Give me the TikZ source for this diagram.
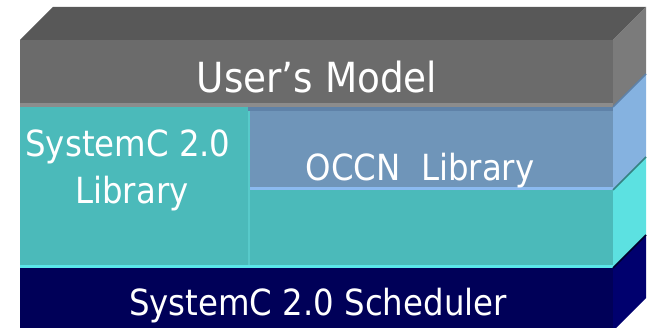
\documentclass[tikz,border=0pt]{standalone}
\usepackage{fontspec}
\setmainfont{DejaVu Sans Condensed}
\definecolor{gtop}{HTML}{585858}
\definecolor{gfront}{HTML}{6B6B6B}
\definecolor{gside}{HTML}{7B7B7B}
\definecolor{gband}{HTML}{8C8C8C}
\definecolor{tfront}{HTML}{4BBABA}
\definecolor{tside}{HTML}{5CE1E1}
\definecolor{tline}{HTML}{58CACA}
\definecolor{cband}{HTML}{5AE6EA}
\definecolor{bfront}{HTML}{6F95B9}
\definecolor{btop}{HTML}{5F82A8}
\definecolor{bband}{HTML}{8BBAF0}
\definecolor{bside}{HTML}{85B2E0}
\definecolor{nfront}{HTML}{000058}
\definecolor{nside}{HTML}{00006E}
\tikzset{
  lbl/.style={text=white, inner sep=0pt, anchor=base},
  big/.style={lbl, font=\fontsize{41.5}{41.5}\selectfont},
  mid/.style={lbl, font=\fontsize{36}{36}\selectfont},
}
\begin{document}
\begin{tikzpicture}[x=1pt,y=-1pt]
\useasboundingbox (0,0) rectangle (651,328);
\clip (0,0) rectangle (651,328);
% User's Model block
\fill[gtop] (20,40) -- (53,7) -- (646,7) -- (613,40) -- cycle;
\fill[gfront] (20,40) rectangle (613,103);
\fill[gband] (20,103) rectangle (613,107);
\fill[gside] (613,40) -- (646,7) -- (646,74) -- (613,107) -- cycle;
% SystemC library (left)
\fill[tfront] (20,107) rectangle (248,268);
% OCCN library
\fill[bfront] (248,107) rectangle (613,190);
\fill[btop] (248,107) rectangle (613,111);
\fill[bband] (248,187) rectangle (613,190);
\fill[bside] (613,107) -- (646,74) -- (646,157) -- (613,190) -- cycle;
\draw[btop, line width=1.5pt] (613,107) -- (646,74);
% lower teal block
\fill[tfront] (248,190) rectangle (613,268);
\fill[tside] (613,190) -- (646,157) -- (646,235) -- (613,268) -- cycle;
\draw[tfront!70!black, line width=1.5pt] (613,190) -- (646,157);
\draw[tline, line width=2pt] (249,111) -- (249,265);
\fill[cband] (20,265) rectangle (613,268);
% Scheduler
\fill[nfront] (20,268) rectangle (613,335);
\fill[nside] (613,268) -- (646,235) -- (646,298) -- (613,331) -- cycle;
\draw[black!60!nside, line width=1.5pt] (613,268) -- (646,235);
% labels
\node[big] (um) at (317,93) {User’s Model};
\node[mid] (sc1) at (128,157) {SystemC 2.0};
\node[mid] (sc2) at (132,204) {Library};
\node[mid] (occn) at (420,181) {OCCN\ \ Library};
\node[mid] (sched) at (318,316) {SystemC 2.0 Scheduler};
\end{tikzpicture}
\end{document}
